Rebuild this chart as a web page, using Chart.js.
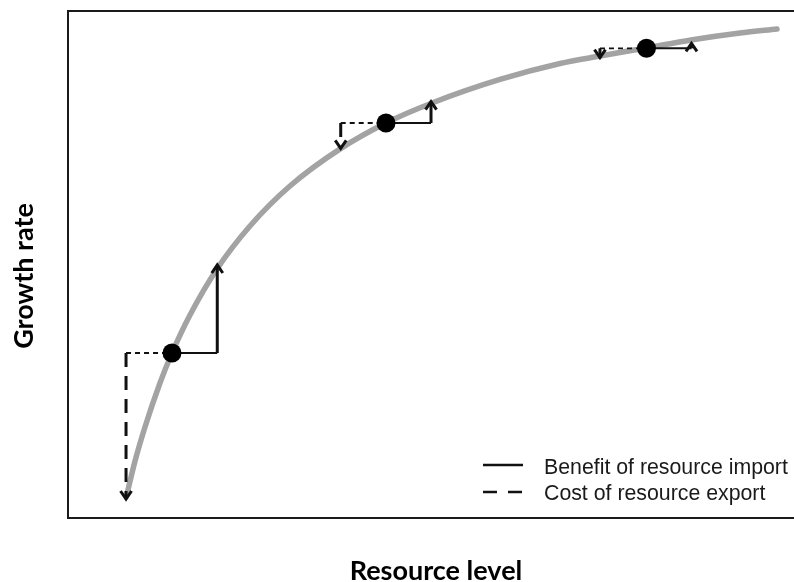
<!DOCTYPE html>
<html>
<head>
<meta charset="utf-8">
<script src="https://cdn.jsdelivr.net/npm/chart.js@4/dist/chart.umd.min.js"></script>
<style>
  html, body { margin: 0; padding: 0; background: #fff; }
  #wrap { width: 794px; height: 582px; }
</style>
</head>
<body>
<div id="wrap"><canvas id="c" width="794" height="582"></canvas></div>
<script>
// Saturating growth curve: resource level vs growth rate (arbitrary units 0-100)
const curveX = [8.25, 9.35, 10.73, 12.79, 14.44, 16.92, 20.63, 25.17, 30.67, 37.68, 43.88, 50.21, 59.56, 67.81, 73.31, 79.64, 85.83, 92.57, 97.66];
const curveY = [4.7, 11.16, 17.91, 26.57, 32.48, 39.96, 49.02, 57.48, 65.35, 72.76, 77.76, 81.69, 86.32, 89.47, 90.94, 92.52, 94.1, 95.47, 96.26];

// Three focal populations sitting on the curve
const pointX = [14.44, 43.88, 79.71];
const pointY = [32.48, 77.76, 92.46];

// Benefit of importing resource: shift right, gain in growth (arrow tip)
const importX = [20.67, 50.07, 85.90];
const importTipY = [49.80, 81.95, 93.44];

// Cost of exporting resource: shift left, loss in growth (arrow tip)
const exportX = [8.12, 37.65, 73.31];
const exportTipY = [3.74, 72.78, 90.61];

const axisTitleX = 'Resource level';
const axisTitleY = 'Growth rate';
const legendLabels = ['Benefit of resource import', 'Cost of resource export'];

const INK = '#111111';

function segment(a, b, width, dash, order) {
  return {
    data: [a, b],
    showLine: true,
    borderColor: INK,
    borderWidth: width,
    borderDash: dash,
    borderCapStyle: 'butt',
    pointRadius: 0,
    pointHoverRadius: 0,
    fill: false,
    tension: 0,
    order: order
  };
}

const datasets = [];

// focal points on top
datasets.push({
  data: pointX.map((x, i) => ({ x, y: pointY[i] })),
  showLine: false,
  pointRadius: 9.5,
  pointHoverRadius: 9.5,
  pointBackgroundColor: '#000',
  pointBorderWidth: 0,
  order: 0
});

for (let i = 0; i < pointX.length; i++) {
  const p = { x: pointX[i], y: pointY[i] };
  // import: solid horizontal step, then vertical rise
  datasets.push(segment(p, { x: importX[i], y: pointY[i] }, 2, [], 1));
  datasets.push(segment({ x: importX[i], y: pointY[i] }, { x: importX[i], y: importTipY[i] }, 3, [], 1));
  // export: dashed horizontal step, then dashed vertical drop
  datasets.push(segment({ x: exportX[i], y: pointY[i] }, p, 1.8, [5, 4], 1));
  datasets.push(segment({ x: exportX[i], y: pointY[i] }, { x: exportX[i], y: exportTipY[i] }, 3, [14, 9], 1));
}

// gray growth curve underneath everything
datasets.push({
  data: curveX.map((x, i) => ({ x, y: curveY[i] })),
  showLine: true,
  borderColor: '#a3a3a3',
  borderWidth: 5.5,
  borderCapStyle: 'round',
  cubicInterpolationMode: 'monotone',
  pointRadius: 0,
  pointHoverRadius: 0,
  fill: false,
  order: 2
});

function chevron(ctx, x, y, dir) {
  // dir = -1 points up, +1 points down
  const hw = 5.5, h = 8;
  ctx.beginPath();
  ctx.moveTo(x - hw, y - dir * h);
  ctx.lineTo(x, y);
  ctx.lineTo(x + hw, y - dir * h);
  ctx.stroke();
}

const decorations = {
  id: 'decorations',
  afterDatasetsDraw(chart) {
    const { ctx, scales: { x, y } } = chart;
    ctx.save();
    ctx.strokeStyle = INK;
    ctx.lineWidth = 3;
    ctx.lineJoin = 'miter';
    ctx.lineCap = 'butt';
    ctx.setLineDash([]);
    for (let i = 0; i < pointX.length; i++) {
      chevron(ctx, x.getPixelForValue(importX[i]), y.getPixelForValue(importTipY[i]), -1);
      chevron(ctx, x.getPixelForValue(exportX[i]), y.getPixelForValue(exportTipY[i]), 1);
    }
    ctx.restore();
  },
  afterDraw(chart) {
    const { ctx, chartArea: a } = chart;
    ctx.save();
    // frame: left, top, bottom
    ctx.strokeStyle = '#1a1a1a';
    ctx.lineWidth = 2;
    ctx.beginPath();
    ctx.moveTo(a.right + 2, a.top + 1);
    ctx.lineTo(a.left + 1, a.top + 1);
    ctx.lineTo(a.left + 1, a.bottom);
    ctx.lineTo(a.right + 2, a.bottom);
    ctx.stroke();

    // legend
    const lx0 = 483, lx1 = 523, tx = 544;
    const ly = [465, 492];
    ctx.lineWidth = 2.6;
    ctx.strokeStyle = INK;
    ctx.beginPath();
    ctx.moveTo(lx0, ly[0]); ctx.lineTo(lx1, ly[0]);
    ctx.stroke();
    ctx.setLineDash([14, 11]);
    ctx.beginPath();
    ctx.moveTo(lx0, ly[1]); ctx.lineTo(lx1 + 1, ly[1]);
    ctx.stroke();
    ctx.setLineDash([]);
    ctx.fillStyle = '#1a1a1a';
    ctx.font = '21.3px "Liberation Sans", Arial, sans-serif';
    ctx.textBaseline = 'alphabetic';
    ctx.textAlign = 'left';
    ctx.fillText(legendLabels[0], tx, 474);
    ctx.fillText(legendLabels[1], tx, 500);

    // axis titles
    ctx.fillStyle = '#000';
    ctx.font = 'bold 27px Lato, "Open Sans", sans-serif';
    ctx.textAlign = 'center';
    ctx.textBaseline = 'alphabetic';
    ctx.fillText(axisTitleX, 436, 580);
    ctx.translate(33, 276);
    ctx.rotate(-Math.PI / 2);
    ctx.fillText(axisTitleY, 0, 0);
    ctx.restore();
  }
};

new Chart(document.getElementById('c'), {
  type: 'scatter',
  data: { datasets },
  options: {
    responsive: false,
    animation: false,
    events: [],
    layout: { autoPadding: false, padding: { left: 67, top: 10, right: 0, bottom: 64 } },
    plugins: { legend: { display: false }, tooltip: { enabled: false } },
    scales: {
      x: { type: 'linear', min: 0, max: 100, display: false },
      y: { type: 'linear', min: 0, max: 100, display: false }
    }
  },
  plugins: [decorations]
});
</script>
</body>
</html>
